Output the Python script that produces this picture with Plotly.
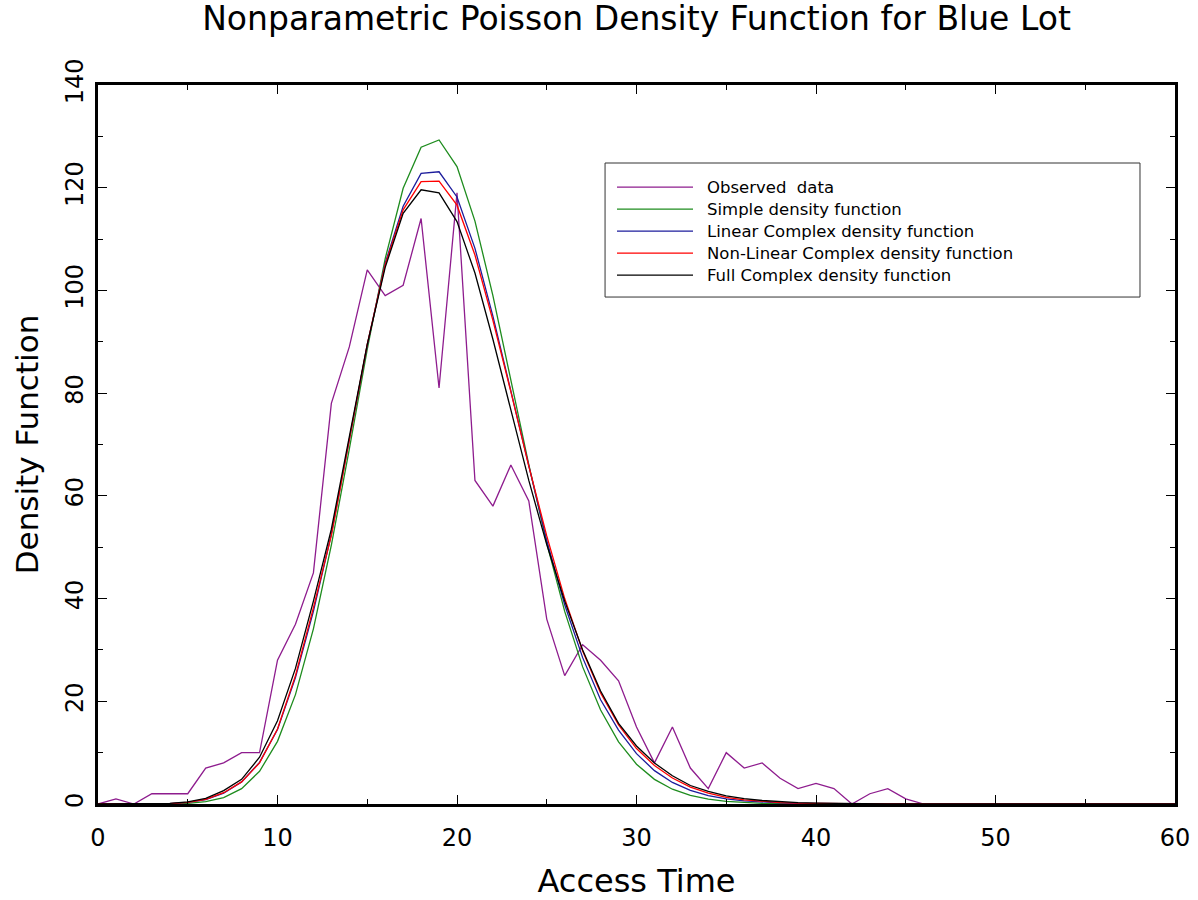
import plotly.graph_objects as go

access_time = list(range(0, 61))

observed = [0, 1, 0, 2, 2, 2, 7, 8, 10, 10, 28, 35, 45, 78, 89, 104, 99, 101, 114, 81,
            119, 63, 58, 66, 59, 36, 25, 31, 28, 24, 15, 8, 15, 7, 3, 10, 7, 8, 5, 3,
            4, 3, 0, 2, 3, 1, 0, 0, 0, 0, 0, 0, 0, 0, 0, 0, 0, 0, 0, 0, 0]

simple = [0, 0, 0, 0.01, 0.04, 0.14, 0.45, 1.24, 2.98, 6.36, 12.2, 21.3, 34.1, 50.4, 69.1,
          88.5, 106.2, 119.9, 127.9, 129.3, 124.1, 113.5, 99.0, 82.7, 66.1, 50.8, 37.5,
          26.7, 18.3, 12.1, 7.75, 4.8, 2.88, 1.68, 0.95, 0.52, 0.28, 0.14, 0.07, 0.035,
          0.017, 0.008, 0, 0, 0, 0, 0, 0, 0, 0, 0, 0, 0, 0, 0, 0, 0, 0, 0, 0, 0]

linear_complex = [0, 0, 0, 0.02, 0.08, 0.3, 0.85, 2.1, 4.3, 8.1, 14.5, 24.6, 37.5, 52.5, 70.8,
                  89.3, 105.3, 116.4, 122.8, 123.1, 118.2, 108.2, 95.0, 80.5, 65.5, 51.3,
                  38.8, 28.5, 20.3, 14.4, 9.8, 6.5, 4.2, 2.65, 1.65, 1.0, 0.6, 0.35, 0.2,
                  0.11, 0.06, 0.03, 0.015, 0, 0, 0, 0, 0, 0, 0, 0, 0, 0, 0, 0, 0, 0, 0, 0, 0, 0]

nonlinear_complex = [0, 0, 0, 0.02, 0.09, 0.32, 0.9, 2.2, 4.3, 8.0, 14.6, 25.0, 38.2, 52.3, 71.0,
                     89.5, 105.0, 115.7, 121.2, 121.3, 116.6, 106.9, 94.2, 80.3, 65.8, 52.2,
                     40.0, 29.8, 21.6, 15.4, 10.8, 7.5, 5.05, 3.3, 2.1, 1.3, 0.8, 0.48, 0.28,
                     0.16, 0.09, 0.05, 0.03, 0.015, 0, 0, 0, 0, 0, 0, 0, 0, 0, 0, 0, 0, 0, 0, 0, 0, 0]

full_complex = [0, 0, 0, 0.03, 0.12, 0.4, 1.1, 2.6, 4.8, 9.1, 16.2, 26.4, 39.5, 53.5, 71.5,
                89.5, 104.5, 115.0, 119.6, 119.0, 113.4, 103.4, 90.5, 76.5, 63.0, 50.5,
                39.5, 30.0, 22.0, 15.7, 11.3, 8.0, 5.5, 3.6, 2.45, 1.6, 1.05, 0.68, 0.43,
                0.27, 0.17, 0.1, 0.06, 0.04, 0.02, 0.01, 0, 0, 0, 0, 0, 0, 0, 0, 0, 0, 0, 0, 0, 0, 0]

series_names = ["Observed\u00a0 data", "Simple density function",
                "Linear Complex density function",
                "Non-Linear Complex density function",
                "Full Complex density function"]
series_values = [observed, simple, linear_complex, nonlinear_complex, full_complex]
series_colors = ["#8E1C8E", "#1E8C1E", "#1C1C9C", "#FF0000", "#000000"]

x_ticks = [0, 10, 20, 30, 40, 50, 60]
y_ticks = [0, 20, 40, 60, 80, 100, 120, 140]

FONT = "DejaVu Sans ExtraLight, DejaVu Sans"

fig = go.Figure()
for name, vals, col in zip(series_names, series_values, series_colors):
    fig.add_trace(go.Scatter(x=access_time, y=vals, mode="lines", name=name,
                             line=dict(color=col, width=1.3), showlegend=False))

# Manual legend box (paper coordinates of plot area)
lx0, lx1, ly0, ly1 = 0.4708, 0.9675, 0.7051, 0.8915
fig.add_shape(type="rect", xref="paper", yref="paper", x0=lx0, x1=lx1, y0=ly0, y1=ly1,
              line=dict(color="#333333", width=1), fillcolor="white", layer="above")
row_y = [0.8581, 0.8275, 0.7969, 0.7663, 0.7357]
for name, col, ry in zip(series_names, series_colors, row_y):
    fig.add_shape(type="line", xref="paper", yref="paper", x0=0.4819, x1=0.5525,
                  y0=ry, y1=ry, line=dict(color=col, width=1.3), layer="above")
    fig.add_annotation(xref="paper", yref="paper", x=0.5636, y=ry, text=name,
                       showarrow=False, xanchor="left", yanchor="middle",
                       font=dict(family=FONT, size=16.5, color="black"))

axis_common = dict(
    showline=True, linewidth=3, linecolor="black", mirror="allticks",
    ticks="inside", ticklen=9, tickwidth=1, tickcolor="black",
    showgrid=False, zeroline=False, automargin=False,
    tickfont=dict(family=FONT, size=24, color="black"),
)

fig.update_xaxes(range=[0, 60], tickvals=x_ticks,
                 minor=dict(dtick=5, ticks="inside", ticklen=5, tickcolor="black", showgrid=False),
                 title=dict(text="Access Time", font=dict(family=FONT, size=32, color="black"),
                            standoff=26),
                 ticklabelstandoff=10,
                 **axis_common)
fig.update_yaxes(range=[0, 140], tickvals=y_ticks, tickangle=-90,
                 minor=dict(dtick=10, ticks="inside", ticklen=5, tickcolor="black", showgrid=False),
                 title=dict(text="Density Function", font=dict(family=FONT, size=31, color="black"),
                            standoff=14),
                 ticklabelstandoff=2,
                 **axis_common)

fig.update_layout(
    width=1198, height=900,
    margin=dict(l=98, r=23, t=85, b=96, autoexpand=False),
    paper_bgcolor="white", plot_bgcolor="white",
    title=dict(text="Nonparametric Poisson Density Function for Blue Lot",
               font=dict(family=FONT, size=33, color="black"),
               x=0.5, xref="paper", y=0.979, yref="container", yanchor="middle"),
)

fig.write_html("out.html")
